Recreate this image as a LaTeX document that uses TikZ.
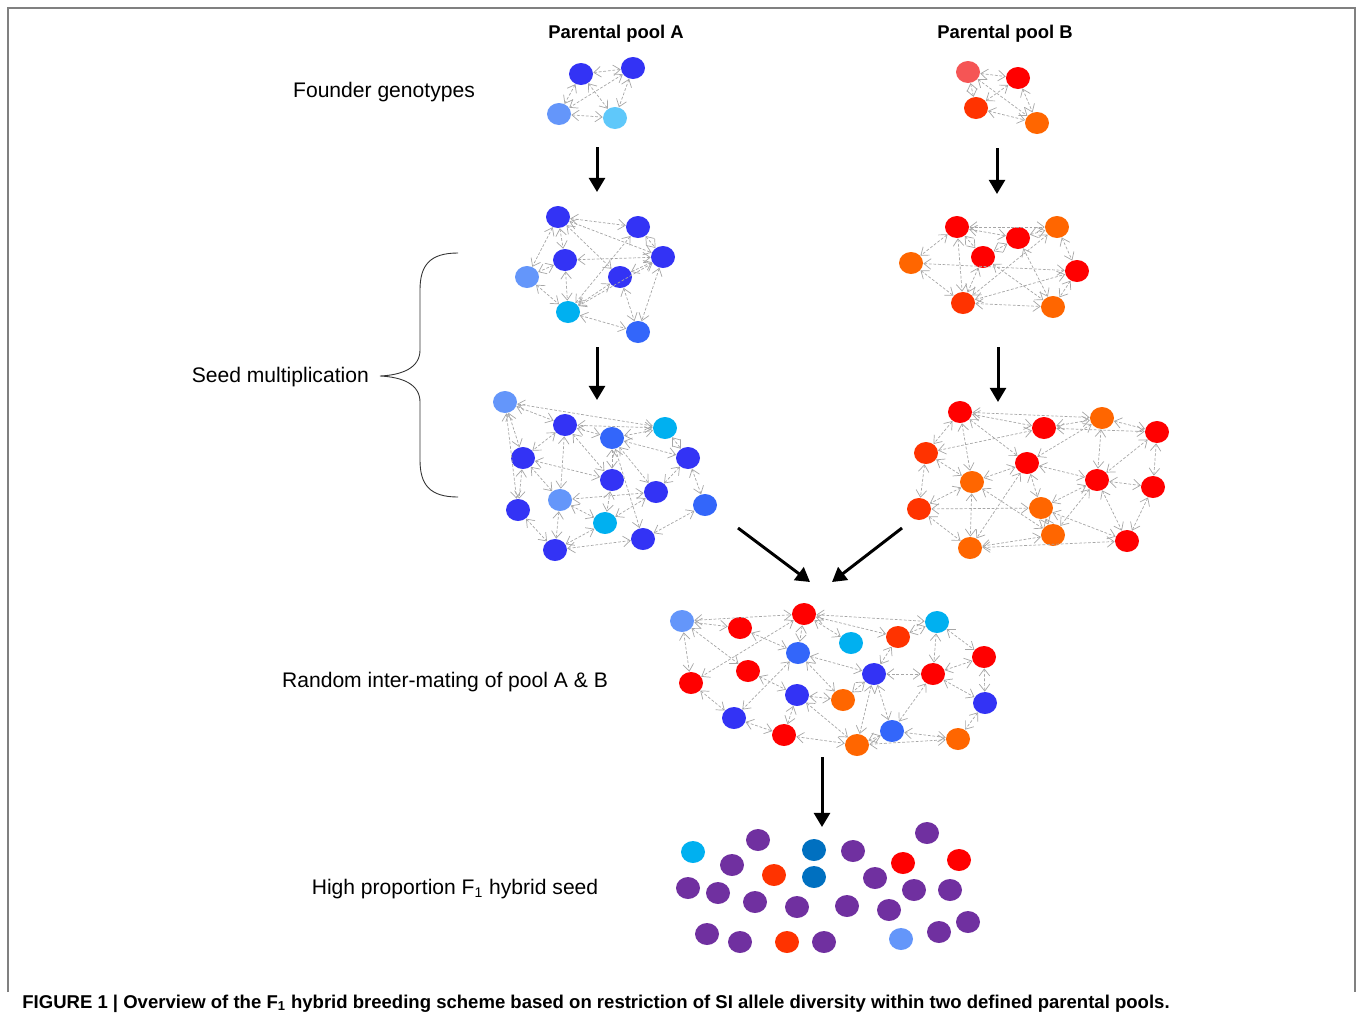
\documentclass[tikz,border=0pt]{standalone}
\usepackage{fontspec}
\setmainfont{Liberation Sans}
\usepackage{xcolor}
\usepackage{tikz}
\usetikzlibrary{arrows.meta,shapes.geometric}

\definecolor{dkblue}{RGB}{51,51,245}
\definecolor{mdblue}{RGB}{51,102,250}
\definecolor{pwblue}{RGB}{100,150,250}
\definecolor{cyanb}{RGB}{0,176,240}
\definecolor{skyb}{RGB}{95,200,250}
\definecolor{seablue}{RGB}{0,112,192}
\definecolor{redc}{RGB}{255,0,0}
\definecolor{ltred}{RGB}{245,85,85}
\definecolor{orred}{RGB}{255,51,0}
\definecolor{orng}{RGB}{255,102,0}
\definecolor{purp}{RGB}{112,48,160}

\begin{document}
\begin{tikzpicture}[x=0.02cm, y=-0.02cm,
  plant/.style={ellipse, minimum width=0.48cm, minimum height=0.44cm, inner sep=0pt},
  mate/.style={draw=gray!70, line width=0.4pt, dash pattern=on 1.6pt off 1pt,
    {Straight Barb[length=4pt,width=6pt]}-{Straight Barb[length=4pt,width=6pt]}},
  bigarrow/.style={line width=1.7pt, -{Triangle[length=8pt,width=9pt]}},
  lbl/.style={font=\fontsize{12}{14}\selectfont},
  poolhead/.style={font=\bfseries\fontsize{10.5}{12}\selectfont}]

  \useasboundingbox (0,0) rectangle (1358,1022);
  \draw[gray, line width=1.1pt] (8,992) -- (8,8) -- (1355,8) -- (1355,992);

  % headings and step labels
  \node[poolhead] (poolA) at (616,34) {Parental pool A};
  \node[poolhead] (poolB) at (1005,34) {Parental pool B};
  \node[lbl] (founder) at (384,92) {Founder genotypes};
  \node[lbl, anchor=east] (multiply) at (375,377) {Seed multiplication};
  \node[lbl] (intermate) at (445,682) {Random inter-mating of pool A \& B};
  \node[lbl] (hybrid) at (455,889) {High proportion F\textsubscript{1} hybrid seed};
  \node[anchor=base west, inner sep=0pt, font=\bfseries\fontsize{10.55}{12}\selectfont] (caption) at (22,1008)
    {FIGURE 1 | Overview of the F\textsubscript{1} hybrid breeding scheme based on restriction of SI allele diversity within two defined parental pools.};

  % brace
  \draw[black!80, line width=0.5pt] (458,253) .. controls (430,253) and (420,265) .. (420,290) -- (420,350)
    .. controls (420,368) and (402,375) .. (380,376) .. controls (402,377) and (420,384) .. (420,402)
    -- (420,460) .. controls (420,485) and (430,497) .. (458,497);

  % founder genotypes
  \foreach \n/\x/\y/\c in {a1/581/74/dkblue, a2/633/68/dkblue, a3/559/114/pwblue, a4/615/118/skyb,
    b1/968/72/ltred, b2/1018/78/redc, b3/976/108/orred, b4/1037/123/orng}
    \node[plant, fill=\c] (\n) at (\x,\y) {};
  \foreach \s/\t in {a1/a2, a1/a3, a1/a4, a2/a3, a2/a4, a3/a4,
    b1/b2, b1/b3, b1/b4, b2/b3, b2/b4, b3/b4}
    \draw[mate] (\s) -- (\t);

  % seed multiplication, first round
  \foreach \n/\x/\y/\c in {c1/558/217/dkblue, c2/638/227/dkblue, c3/663/257/dkblue, c4/565/260/dkblue,
    c5/527/277/pwblue, c6/620/277/dkblue, c7/568/312/cyanb, c8/638/332/mdblue,
    d1/957/227/redc, d2/1057/227/orng, d3/1018/238/redc, d4/983/257/redc,
    d5/911/263/orng, d6/1077/271/redc, d7/963/303/orred, d8/1053/307/orng}
    \node[plant, fill=\c] (\n) at (\x,\y) {};
  \foreach \s/\t in {c1/c2, c1/c3, c1/c4, c1/c5, c1/c6, c2/c3, c2/c7, c4/c3, c4/c5, c4/c7,
    c5/c7, c6/c3, c6/c7, c3/c7, c6/c8, c3/c8, c7/c8,
    d1/d2, d1/d3, d1/d4, d1/d5, d1/d7, d3/d2, d3/d4, d2/d6, d2/d7, d5/d6, d4/d7,
    d4/d8, d5/d7, d7/d8, d7/d6, d6/d8, d3/d8}
    \draw[mate] (\s) -- (\t);

  % seed multiplication, second round
  \foreach \n/\x/\y/\c in {e1/505/402/pwblue, e2/565/425/dkblue, e3/612/438/mdblue, e4/665/428/cyanb,
    e5/523/458/dkblue, e6/688/458/dkblue, e7/612/480/dkblue, e8/656/492/dkblue,
    e9/560/500/pwblue, e10/705/505/mdblue, e11/518/510/dkblue, e12/605/523/cyanb,
    e13/643/539/dkblue, e14/555/550/dkblue,
    f1/960/412/redc, f2/1102/418/orng, f3/1044/428/redc, f4/1157/432/redc,
    f5/926/453/orred, f6/1027/463/redc, f7/972/482/orng, f8/1097/480/redc,
    f9/1153/487/redc, f10/919/509/orred, f11/1041/508/orng, f12/1053/535/orng,
    f13/1127/541/redc, f14/970/548/orng}
    \node[plant, fill=\c] (\n) at (\x,\y) {};
  \foreach \s/\t in {e1/e4, e1/e2, e1/e5, e1/e11, e2/e3, e2/e5, e2/e9, e2/e7, e3/e4, e3/e6,
    e3/e7, e3/e13, e3/e8, e4/e6, e4/e2, e5/e7, e5/e9, e5/e11, e6/e8, e6/e10, e7/e12,
    e8/e12, e8/e9, e9/e12, e9/e14, e10/e13, e11/e14, e14/e13, e14/e12,
    f1/f2, f1/f3, f1/f6, f1/f7, f1/f5, f3/f2, f3/f5, f3/f4, f2/f4, f2/f8, f2/f6, f4/f8,
    f4/f9, f5/f7, f5/f10, f6/f8, f6/f7, f6/f11, f6/f14, f7/f10, f7/f14, f7/f12, f8/f11,
    f8/f12, f8/f13, f8/f9, f9/f13, f10/f11, f10/f14, f11/f13, f11/f12, f12/f14, f13/f14}
    \draw[mate] (\s) -- (\t);

  % inter-mating of both pools
  \foreach \n/\x/\y/\c in {g1/682/621/pwblue, g2/740/628/redc, g3/804/614/redc, g4/851/643/cyanb,
    g5/898/637/orred, g6/937/622/cyanb, g7/798/653/mdblue, g8/748/671/redc,
    g9/691/683/redc, g10/874/674/dkblue, g11/933/674/redc, g12/984/657/redc,
    g13/797/695/dkblue, g14/843/700/orng, g15/985/703/dkblue, g16/734/718/dkblue,
    g17/784/735/redc, g18/892/731/mdblue, g19/857/745/orng, g20/958/739/orng}
    \node[plant, fill=\c] (\n) at (\x,\y) {};
  \foreach \s/\t in {g1/g3, g1/g2, g1/g9, g1/g8, g3/g6, g3/g9, g3/g7, g3/g4, g3/g5, g2/g7,
    g7/g10, g7/g14, g7/g16, g8/g13, g9/g16, g16/g17, g17/g13, g13/g19, g13/g14, g10/g14,
    g10/g5, g10/g11, g10/g18, g10/g19, g5/g6, g6/g11, g6/g12, g11/g12, g11/g15, g11/g18,
    g12/g15, g15/g20, g18/g19, g18/g20, g17/g19, g19/g20}
    \draw[mate] (\s) -- (\t);

  % F1 hybrid seed
  \foreach \n/\x/\y/\c in {h1/693/852/cyanb, h2/758/840/purp, h3/732/865/purp, h4/774/875/orred,
    h5/814/850/seablue, h6/814/877/seablue, h7/853/851/purp, h8/927/833/purp,
    h9/903/863/redc, h10/959/860/redc, h11/688/888/purp, h12/718/893/purp,
    h13/755/902/purp, h14/797/907/purp, h15/875/878/purp, h16/914/890/purp,
    h17/950/890/purp, h18/847/906/purp, h19/889/910/purp, h20/707/934/purp,
    h21/740/942/purp, h22/787/942/orred, h23/824/942/purp, h24/901/939/pwblue,
    h25/939/932/purp, h26/968/922/purp}
    \node[plant, fill=\c] (\n) at (\x,\y) {};

  % generation arrows
  \coordinate (fA) at (597,147);  \coordinate (sA) at (597,192);
  \coordinate (fB) at (997,148);  \coordinate (sB) at (997,194);
  \coordinate (mA) at (597,347);  \coordinate (tA) at (597,400);
  \coordinate (mB) at (998,347);  \coordinate (tB) at (998,402);
  \coordinate (xA) at (738,528);  \coordinate (yA) at (810,582);
  \coordinate (xB) at (902,528);  \coordinate (yB) at (832,582);
  \coordinate (iM) at (822,757);  \coordinate (hS) at (822,827);
  \draw[bigarrow] (fA) -- (sA);
  \draw[bigarrow] (fB) -- (sB);
  \draw[bigarrow] (mA) -- (tA);
  \draw[bigarrow] (mB) -- (tB);
  \draw[bigarrow] (xA) -- (yA);
  \draw[bigarrow] (xB) -- (yB);
  \draw[bigarrow] (iM) -- (hS);
\end{tikzpicture}
\end{document}
